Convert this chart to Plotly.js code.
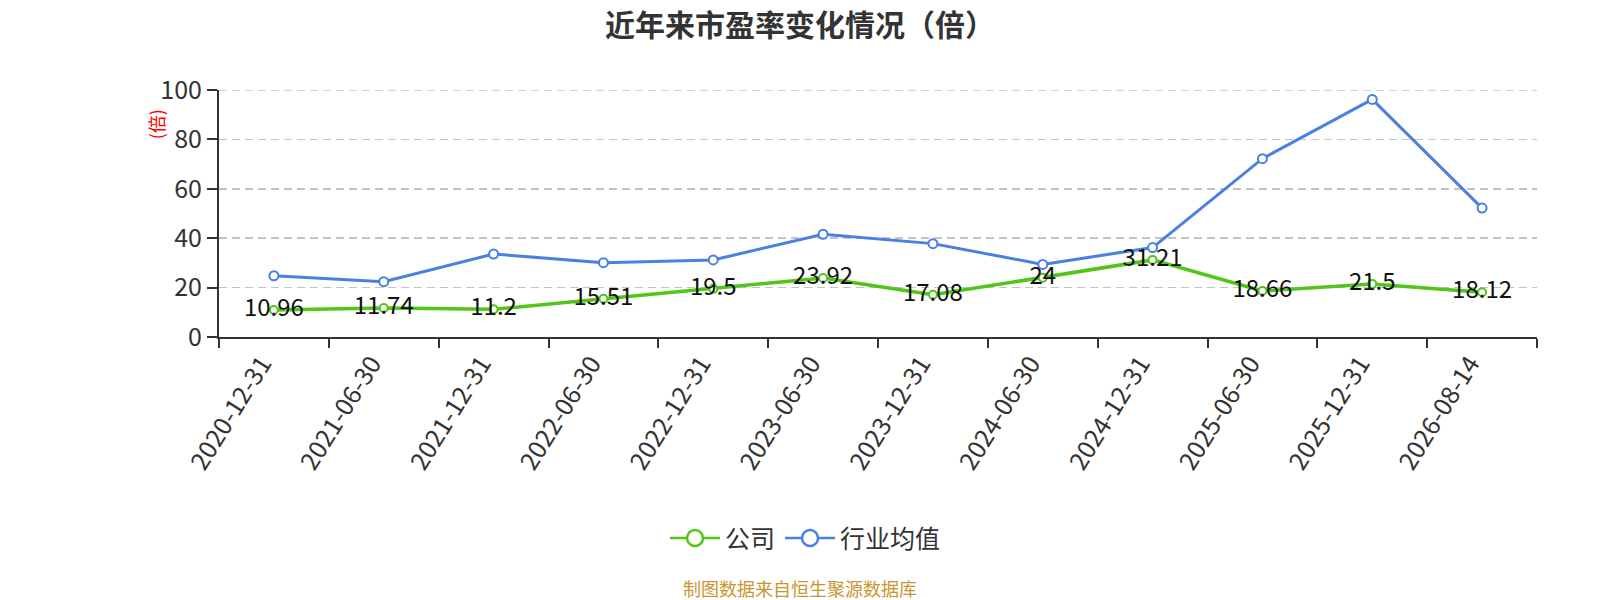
<!DOCTYPE html>
<html>
<head>
<meta charset="utf-8">
<script src="https://cdn.plot.ly/plotly-3.0.1.min.js"></script>
<style>
  html, body { margin: 0; padding: 0; background: #fff; }
  #chart { width: 1600px; height: 600px; }
</style>
</head>
<body>
<div id="chart"></div>
<script>
// report dates on the x axis
const dates = ['2020-12-31', '2021-06-30', '2021-12-31', '2022-06-30', '2022-12-31', '2023-06-30',
               '2023-12-31', '2024-06-30', '2024-12-31', '2025-06-30', '2025-12-31', '2026-08-14'];

// company PE (labels)
const companyPE = [10.96, 11.74, 11.2, 15.51, 19.5, 23.92, 17.08, 24, 31.21, 18.66, 21.5, 18.12];

// industry average PE (estimated from the line)
const industryPE = [24.8, 22.4, 33.6, 30.1, 31.2, 41.6, 37.8, 29.4, 36.2, 72.2, 96.2, 52.2];

const yTicks = [0, 20, 40, 60, 80, 100];
const yMax = 100;

const GREEN = '#52c41a';
const BLUE = '#4a80e2';
const GRID = '#c4c4c4';
const FONT = '"Noto Sans CJK SC", "Noto Sans", sans-serif';

let traces = [
    {
        // industry line first so company labels sit on top
        x: dates,
        y: industryPE,
        type: 'scatter',
        mode: 'lines+markers',
        name: '行业均值',
        showlegend: false,
        line: { color: BLUE, width: 3 },
        marker: { color: '#fff', size: 9, line: { color: BLUE, width: 2 } },
        hoverinfo: 'skip'
    },
    {
        x: dates,
        y: companyPE,
        type: 'scatter',
        mode: 'lines+markers+text',
        name: '公司',
        showlegend: false,
        text: companyPE.map(v => String(v)),
        textposition: 'middle center',
        textfont: { family: FONT, size: 24, color: '#111' },
        line: { color: GREEN, width: 3.5 },
        marker: { color: '#fff', size: 8, line: { color: GREEN, width: 2 } },
        hoverinfo: 'skip'
    },
    // legend entries only (bigger symbols like the original)
    {
        x: [dates[0]], y: [null], type: 'scatter', mode: 'lines+markers', name: '公司',
        legendrank: 1,
        line: { color: GREEN, width: 2.5 },
        marker: { color: '#fff', size: 16, line: { color: GREEN, width: 2.5 } }
    },
    {
        x: [dates[0]], y: [null], type: 'scatter', mode: 'lines+markers', name: '行业均值',
        legendrank: 2,
        line: { color: BLUE, width: 2.5 },
        marker: { color: '#fff', size: 16, line: { color: BLUE, width: 2.5 } }
    }
];

let layout = {
    width: 1600,
    height: 600,
    paper_bgcolor: '#fff',
    plot_bgcolor: '#fff',
    margin: { l: 219, r: 63, t: 90, b: 263 },
    font: { family: FONT, color: '#333' },
    title: {
        text: '<b>近年来市盈率变化情况（倍）</b>',
        font: { family: FONT, size: 30, color: '#333' },
        x: 0.5, xref: 'container', xanchor: 'center',
        y: 0.958, yref: 'container', yanchor: 'middle'
    },
    xaxis: {
        type: 'category',
        categoryorder: 'array',
        categoryarray: dates,
        range: [-0.5, dates.length - 0.5],
        tickson: 'boundaries',
        ticks: 'outside',
        ticklen: 9,
        tickwidth: 2,
        tickcolor: '#333',
        showline: true,
        linecolor: '#333',
        linewidth: 2,
        showgrid: false,
        tickangle: -58,
        ticklabelshift: -12,
        tickfont: { family: FONT, size: 25, color: '#333' },
        fixedrange: true
    },
    yaxis: {
        range: [0, yMax],
        tickvals: yTicks,
        ticks: 'outside',
        ticklen: 10,
        tickwidth: 2,
        tickcolor: '#333',
        showline: true,
        linecolor: '#333',
        linewidth: 2,
        showgrid: true,
        gridcolor: GRID,
        griddash: '8px,5px',
        gridwidth: 1.5,
        zeroline: false,
        tickfont: { family: FONT, size: 25, color: '#333' },
        fixedrange: true
    },
    // top grid line (plotly skips the one on the plot edge)
    shapes: [
        {
            type: 'line', layer: 'below',
            xref: 'paper', x0: 0, x1: 1,
            yref: 'y', y0: yMax, y1: yMax,
            line: { color: GRID, width: 1.5, dash: '8px,5px' }
        }
    ],
    legend: {
        orientation: 'h',
        x: 0.445, xanchor: 'center',
        y: -0.815, yanchor: 'middle',
        font: { family: FONT, size: 25, color: '#333' },
        itemsizing: 'trace',
        itemwidth: 50,
        bgcolor: 'rgba(0,0,0,0)'
    },
    annotations: [
        {
            text: '(倍)',
            xref: 'paper', yref: 'paper',
            x: -0.048, y: 0.86,
            xanchor: 'center', yanchor: 'middle',
            textangle: -90,
            showarrow: false,
            font: { family: FONT, size: 18, color: '#ff0000' }
        },
        {
            text: '制图数据来自恒生聚源数据库',
            xref: 'paper', yref: 'paper',
            x: (800 - 219) / 1318, y: -1.015,
            xanchor: 'center', yanchor: 'middle',
            showarrow: false,
            font: { family: FONT, size: 18, color: '#c8962e' }
        }
    ]
};

Plotly.newPlot('chart', traces, layout, { displayModeBar: false, staticPlot: true });
</script>
</body>
</html>
